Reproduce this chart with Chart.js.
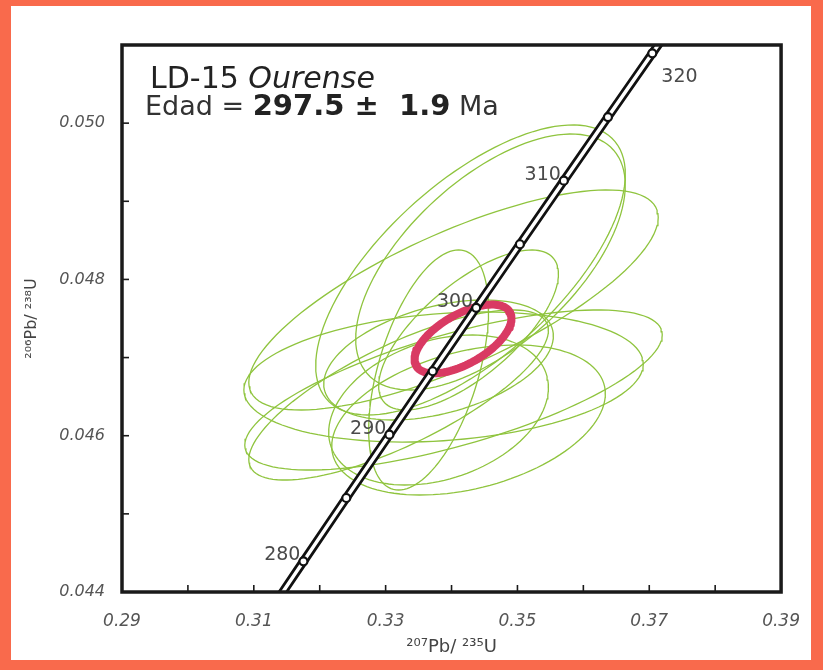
<!DOCTYPE html>
<html>
<head>
<meta charset="utf-8">
<script src="https://cdn.jsdelivr.net/npm/chart.js@4.4.1/dist/chart.umd.min.js"></script>
<style>
  body { margin: 0; background: #f96a4c; width: 823px; height: 670px; overflow: hidden; }
  #box { position: absolute; left: 11px; top: 6px; width: 800px; height: 654px; background: #fff; }
</style>
</head>
<body>
<div id="box"><canvas id="concordia" width="800" height="654"></canvas></div>
<script>
// concordia curve, ages in Ma (275 and 325 only extend the line past the frame)
var ages = [275, 280, 285, 290, 295, 300, 305, 310, 315, 320, 325];
var concX = [0.31106, 0.31753, 0.32403, 0.33057, 0.33714, 0.34374, 0.35037, 0.35704, 0.36373, 0.37046, 0.37723];
var concY = [0.043582, 0.044392, 0.045203, 0.046013, 0.046825, 0.047637, 0.048450, 0.049264, 0.050078, 0.050893, 0.051708];
var ageLabels = ['', '280', '', '290', '', '300', '', '310', '', '320', ''];

// analyses: centre, 2 sigma half widths, error correlation
var ellX   = [0.34288, 0.34591, 0.34030, 0.34030, 0.33197, 0.33803, 0.34258, 0.33803, 0.33652, 0.34258, 0.33879];
var ellY   = [0.048121, 0.048223, 0.047737, 0.046585, 0.046521, 0.046969, 0.046201, 0.046329, 0.046841, 0.047353, 0.046751];
var ellSX  = [0.02349, 0.02045, 0.03106, 0.03167, 0.02273, 0.01742, 0.02076, 0.01667, 0.00909, 0.01364, 0.03030];
var ellSY  = [0.001856, 0.001638, 0.001408, 0.001024, 0.001088, 0.000768, 0.000960, 0.000960, 0.001536, 0.001024, 0.000832];
var ellRho = [0.66, 0.60, 0.75, 0.69, 0.76, 0.40, 0.35, 0.30, 0.50, 0.70, 0.20];

// concordia age ellipse
var ageX = 0.34174, ageY = 0.047238, ageSX = 0.00735, ageSY = 0.000440, ageRho = 0.60;

var xTicks = ['0.29', '0.31', '0.33', '0.35', '0.37', '0.39'];
var yTicks = ['0.044', '0.046', '0.048', '0.050'];

function outline(cx, cy, sx, sy, rho) {
  var pts = [];
  var k = Math.sqrt(1 - rho * rho);
  for (var i = 0; i <= 121; i++) {
    var t = i / 120 * 2 * Math.PI;
    pts.push({ x: cx + sx * Math.cos(t), y: cy + sy * (rho * Math.cos(t) + k * Math.sin(t)) });
  }
  return pts;
}

var datasets = [];
var conc = ages.map(function (a, i) { return { x: concX[i], y: concY[i] }; });
var markR = ages.map(function (a, i) { return (i === 0 || i === ages.length - 1) ? 0 : 4; });

datasets.push({ data: conc, showLine: true, borderColor: '#fff', borderWidth: 3.5, pointRadius: markR,
  pointBackgroundColor: '#fff', pointBorderColor: '#111', pointBorderWidth: 2.2, order: 1 });
datasets.push({ data: conc, showLine: true, borderColor: '#111', borderWidth: 9, pointRadius: 0, order: 2 });
datasets.push({ data: outline(ageX, ageY, ageSX, ageSY, ageRho), showLine: true, borderColor: '#d93a63',
  borderWidth: 8, pointRadius: 0, borderJoinStyle: 'round', borderCapStyle: 'round', order: 3 });
for (var i = 0; i < ellX.length; i++) {
  datasets.push({ data: outline(ellX[i], ellY[i], ellSX[i], ellSY[i], ellRho[i]), showLine: true,
    borderColor: '#8fc43e', borderWidth: 1.3, pointRadius: 0, order: 4 });
}

var frame = {
  id: 'frame',
  afterDatasetsDraw: function (chart) {
    var c = chart.ctx, a = chart.chartArea;
    var xs = chart.scales.x, ys = chart.scales.y;
    c.save();
    c.strokeStyle = '#1a1a1a';
    c.lineWidth = 1.6;
    xs.ticks.forEach(function (t) {
      var px = xs.getPixelForValue(t.value);
      c.beginPath(); c.moveTo(px, a.bottom); c.lineTo(px, a.bottom - 7); c.stroke();
    });
    ys.ticks.forEach(function (t) {
      var py = ys.getPixelForValue(t.value);
      c.beginPath(); c.moveTo(a.left, py); c.lineTo(a.left + 7, py); c.stroke();
    });
    c.lineWidth = 3.5;
    c.strokeRect(a.left, a.top, a.right - a.left, a.bottom - a.top);

    // age labels on the concordia
    var meta = chart.getDatasetMeta(0);
    c.fillStyle = '#4a4a4a';
    c.font = '19px "DejaVu Sans"';
    c.textBaseline = 'alphabetic';
    meta.data.forEach(function (p, i) {
      if (!ageLabels[i]) return;
      if (ageLabels[i] === '320') {
        c.textAlign = 'left';
        c.fillText(ageLabels[i], p.x + 9, p.y + 29);
      } else {
        c.textAlign = 'right';
        c.fillText(ageLabels[i], p.x - 3, p.y - 1);
      }
    });

    // sample name and age
    var x0 = a.left + 28;
    c.textAlign = 'left';
    c.fillStyle = '#222';
    c.font = '30px "DejaVu Sans"';
    c.fillText('LD-15 ', x0, a.top + 43);
    var w = c.measureText('LD-15 ').width;
    c.font = 'italic 30px "DejaVu Sans"';
    c.fillText('Ourense', x0 + w, a.top + 43);

    c.fillStyle = '#333';
    c.font = '27px "DejaVu Sans"';
    c.fillText('Edad = ', x0 - 5, a.top + 70);
    w = c.measureText('Edad = ').width;
    c.font = 'bold 29px "DejaVu Sans"';
    c.fillStyle = '#222';
    c.fillText('297.5 \u00b1  1.9', x0 - 5 + w, a.top + 70);
    w += c.measureText('297.5 \u00b1  1.9').width;
    c.font = '27px "DejaVu Sans"';
    c.fillStyle = '#333';
    c.fillText(' Ma', x0 - 5 + w, a.top + 70);
    c.restore();
  }
};

new Chart(document.getElementById('concordia'), {
  type: 'scatter',
  data: { datasets: datasets },
  plugins: [frame],
  options: {
    responsive: false,
    animation: false,
    layout: { padding: { top: 39, right: 28, left: 0, bottom: 0 } },
    plugins: { legend: { display: false }, tooltip: { enabled: false } },
    elements: { line: { tension: 0 } },
    scales: {
      x: {
        type: 'linear', min: 0.29, max: 0.39,
        afterFit: function (s) { s.height = 68; },
        grid: { display: false }, border: { display: false },
        ticks: {
          stepSize: 0.01, padding: 11, maxRotation: 0, autoSkip: false,
          color: '#555', font: { family: 'DejaVu Sans', style: 'italic', size: 17 },
          callback: function (v) {
            var n = Math.round(v * 100);
            return n % 2 === 1 ? xTicks[(n - 29) / 2] : '';
          }
        },
        title: { display: true, text: '\u00b2\u2070\u2077Pb/ \u00b2\u00b3\u2075U', color: '#444',
          font: { family: 'DejaVu Sans', size: 18 }, padding: { top: 0, bottom: 2 } }
      },
      y: {
        type: 'linear', min: 0.044, max: 0.051,
        afterFit: function (s) { s.width = 111; },
        grid: { display: false }, border: { display: false },
        ticks: {
          stepSize: 0.001, padding: 9, autoSkip: false,
          color: '#555', font: { family: 'DejaVu Sans', style: 'italic', size: 16 },
          callback: function (v) {
            var n = Math.round(v * 1000);
            return n % 2 === 0 && n <= 50 ? yTicks[(n - 44) / 2] : '';
          }
        },
        title: { display: true, text: '\u00b2\u2070\u2076Pb/ \u00b2\u00b3\u2078U', color: '#444',
          font: { family: 'DejaVu Sans', size: 16 }, padding: { top: 11, bottom: 0 } }
      }
    }
  }
});
</script>
</body>
</html>
